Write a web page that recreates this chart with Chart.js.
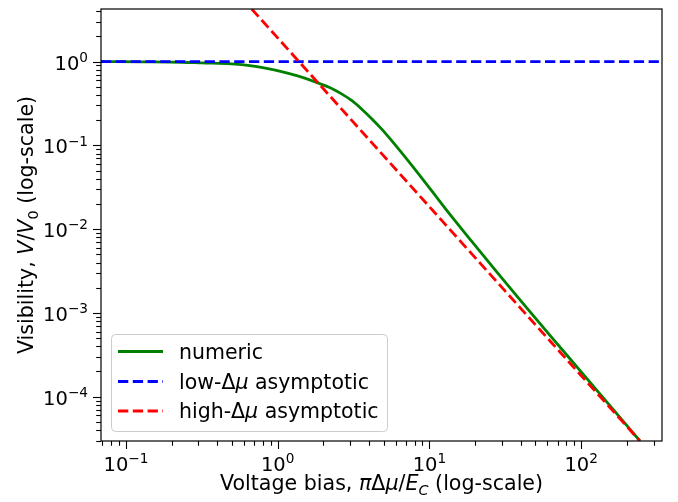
<!DOCTYPE html>
<html>
<head>
<meta charset="utf-8">
<script src="https://cdn.jsdelivr.net/npm/chart.js@4/dist/chart.umd.min.js"></script>
<style>
  html, body { margin: 0; padding: 0; background: #fff; }
  canvas { display: block; }
</style>
</head>
<body>
<canvas id="myChart" width="678" height="502"></canvas>
<script>
// values (log-log axes)
const numericX = [0.0685, 0.128, 0.234, 0.316, 0.498, 0.674, 0.846, 1.06, 1.354, 1.75, 2.27, 2.637, 3.07, 3.569, 4.15, 4.833, 5.62, 7.61, 10.3, 13.9, 18.9, 27.6, 40.3, 63.5, 100, 244];
const numericY = [1.0, 0.995, 0.984, 0.965, 0.939, 0.889, 0.830, 0.76, 0.675, 0.577, 0.479, 0.412, 0.344, 0.2726, 0.210, 0.1573, 0.1147, 0.0585, 0.0290, 0.01441, 0.00725, 0.003136, 0.001375, 5.19e-4, 1.98e-4, 2.96e-5];

const lowX = [0.0685, 341];
const lowY = [1, 1];

const highX = [0.674, 244];
const highY = [4.25, 2.96e-5];

const xRange = [0.0685, 341];
const yRange = [2.96e-5, 4.25];

const xTickExps = [-1, 0, 1, 2];
const yTickExps = [-4, -3, -2, -1, 0];

const legendLabels = [
    [{ t: 'numeric' }],
    [{ t: 'low-' }, { t: 'Δ' }, { t: 'μ', it: true }, { t: ' asymptotic' }],
    [{ t: 'high-' }, { t: 'Δ' }, { t: 'μ', it: true }, { t: ' asymptotic' }]
];

const xTitle = [{ t: 'Voltage bias, ' }, { t: 'π', it: true }, { t: 'Δ' }, { t: 'μ', it: true }, { t: '/' }, { t: 'E', it: true }, { t: 'C', it: true, sub: true }, { t: ' (log-scale)' }];
const yTitle = [{ t: 'Visibility, ' }, { t: 'V', it: true }, { t: '/' }, { t: 'V', it: true }, { t: '0', sub: true }, { t: ' (log-scale)' }];

const FONT = '"DejaVu Sans", sans-serif';
const GREEN = '#008000', BLUE = '#0000ff', RED = '#ff0000';
const DASH = [10.3, 4.5];

const toPoints = (xs, ys) => xs.map((x, i) => ({ x: x, y: ys[i] }));

// mixed-style text, like matplotlib mathtext
function richWidth(ctx, parts, size) {
    let w = 0;
    parts.forEach(p => {
        const s = p.sub || p.sup ? size * 0.7 : size;
        ctx.font = `${p.it ? 'italic ' : ''}${s}px ${FONT}`;
        w += ctx.measureText(p.t).width;
    });
    return w;
}

function drawRich(ctx, parts, x, y, size, align) {
    const w = richWidth(ctx, parts, size);
    let cx = align === 'center' ? x - w / 2 : align === 'right' ? x - w : x;
    ctx.textBaseline = 'alphabetic';
    ctx.textAlign = 'left';
    parts.forEach(p => {
        const s = p.sub || p.sup ? size * 0.7 : size;
        const dy = p.sub ? size * 0.22 : p.sup ? -size * 0.4 : 0;
        ctx.font = `${p.it ? 'italic ' : ''}${s}px ${FONT}`;
        ctx.fillText(p.t, cx, y + dy);
        cx += ctx.measureText(p.t).width;
    });
}

function powLabel(exp) {
    return [{ t: '10' }, { t: String(exp).replace('-', '\u2212'), sup: true }];
}

function minorValues(range) {
    const out = [];
    const lo = Math.floor(Math.log10(range[0])), hi = Math.ceil(Math.log10(range[1]));
    for (let k = lo; k <= hi; k++) {
        for (let m = 2; m <= 9; m++) {
            const v = m * Math.pow(10, k);
            if (v >= range[0] && v <= range[1]) out.push(v);
        }
    }
    return out;
}

const axesPlugin = {
    id: 'mplAxes',
    afterDraw(chart) {
        const ctx = chart.ctx;
        const area = chart.chartArea;
        const xs = chart.scales.x, ys = chart.scales.y;
        ctx.save();
        ctx.strokeStyle = '#000';
        ctx.fillStyle = '#000';
        ctx.lineWidth = 1.1;

        // ticks
        const tick = (px, py, dx, dy) => {
            ctx.beginPath();
            ctx.moveTo(px, py);
            ctx.lineTo(px + dx, py + dy);
            ctx.stroke();
        };
        xTickExps.forEach(e => tick(Math.round(xs.getPixelForValue(Math.pow(10, e))) + 0.5, area.bottom, 0, 8));
        minorValues(xRange).forEach(v => tick(Math.round(xs.getPixelForValue(v)) + 0.5, area.bottom, 0, 4.8));
        yTickExps.forEach(e => tick(area.left, Math.round(ys.getPixelForValue(Math.pow(10, e))) + 0.5, -8, 0));
        minorValues(yRange).forEach(v => tick(area.left, Math.round(ys.getPixelForValue(v)) + 0.5, -4.8, 0));

        // frame
        ctx.lineWidth = 1.2;
        ctx.strokeRect(area.left, area.top, area.right - area.left, area.bottom - area.top);

        // tick labels
        xTickExps.forEach(e => drawRich(ctx, powLabel(e), xs.getPixelForValue(Math.pow(10, e)), area.bottom + 30, 19.5, 'center'));
        yTickExps.forEach(e => drawRich(ctx, powLabel(e), area.left - 13, ys.getPixelForValue(Math.pow(10, e)) + 8, 19.5, 'right'));

        // axis titles
        drawRich(ctx, xTitle, (area.left + area.right) / 2, 490, 20.6, 'center');
        ctx.save();
        ctx.translate(33, (area.top + area.bottom) / 2);
        ctx.rotate(-Math.PI / 2);
        drawRich(ctx, yTitle, 0, 0, 20.6, 'center');
        ctx.restore();

        // legend
        const lx = 111.5, ly = 334.5, lw = 276, lh = 97, r = 4;
        ctx.beginPath();
        ctx.roundRect(lx, ly, lw, lh, r);
        ctx.fillStyle = 'rgba(255,255,255,0.8)';
        ctx.fill();
        ctx.strokeStyle = '#cccccc';
        ctx.lineWidth = 1;
        ctx.stroke();

        const rows = [351.5, 381.5, 411];
        const styles = [[GREEN, []], [BLUE, DASH], [RED, DASH]];
        rows.forEach((ry, i) => {
            ctx.strokeStyle = styles[i][0];
            ctx.setLineDash(styles[i][1]);
            ctx.lineWidth = 2.8;
            ctx.beginPath();
            ctx.moveTo(118, ry);
            ctx.lineTo(163, ry);
            ctx.stroke();
            ctx.setLineDash([]);
            ctx.fillStyle = '#000';
            drawRich(ctx, legendLabels[i], 179, ry + 7, 20.5, 'left');
        });
        ctx.restore();
    }
};

const ctx = document.getElementById('myChart');

new Chart(ctx, {
    type: 'line',
    data: {
        datasets: [
            {
                label: 'numeric',
                data: toPoints(numericX, numericY),
                borderColor: GREEN,
                borderWidth: 2.8,
                pointRadius: 0,
                cubicInterpolationMode: 'monotone',
                order: 2
            },
            {
                label: 'low-Δμ asymptotic',
                data: toPoints(lowX, lowY),
                borderColor: BLUE,
                borderWidth: 2.8,
                borderDash: DASH,
                pointRadius: 0,
                order: 1
            },
            {
                label: 'high-Δμ asymptotic',
                data: toPoints(highX, highY),
                borderColor: RED,
                borderWidth: 2.8,
                borderDash: DASH,
                pointRadius: 0,
                order: 0
            }
        ]
    },
    options: {
        responsive: false,
        animation: false,
        devicePixelRatio: 1,
        layout: { padding: { left: 101, right: 16, top: 9, bottom: 61 } },
        scales: {
            x: { type: 'logarithmic', min: xRange[0], max: xRange[1], display: false },
            y: { type: 'logarithmic', min: yRange[0], max: yRange[1], display: false }
        },
        plugins: {
            legend: { display: false },
            tooltip: { enabled: false }
        }
    },
    plugins: [axesPlugin]
});
</script>
</body>
</html>
